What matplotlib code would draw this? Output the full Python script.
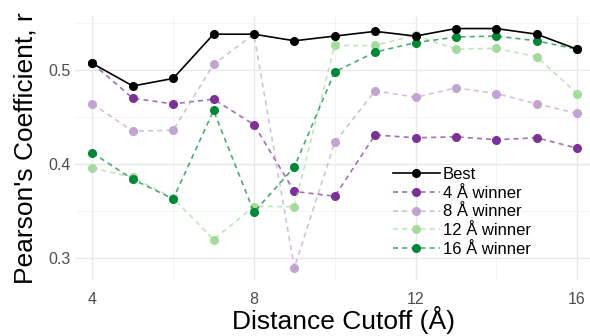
import matplotlib
matplotlib.use("Agg")
import matplotlib.pyplot as plt
from matplotlib.colors import to_rgba

plt.rcParams['font.family'] = ['Liberation Sans', 'DejaVu Sans']

cutoffs = [4, 5, 6, 7, 8, 9, 10, 11, 12, 13, 14, 15, 16]

best = [0.507, 0.483, 0.491, 0.538, 0.538, 0.531, 0.536, 0.541, 0.536, 0.544, 0.544, 0.538, 0.522]
winner_4 = [0.507, 0.470, 0.464, 0.469, 0.442, 0.371, 0.366, 0.431, 0.428, 0.429, 0.426, 0.428, 0.417]
winner_8 = [0.464, 0.435, 0.436, 0.506, 0.538, 0.290, 0.423, 0.478, 0.471, 0.481, 0.475, 0.464, 0.454]
winner_12 = [0.396, 0.386, 0.364, 0.320, 0.355, 0.355, 0.526, 0.526, 0.537, 0.522, 0.523, 0.514, 0.475]
winner_16 = [0.412, 0.384, 0.363, 0.457, 0.349, 0.397, 0.498, 0.519, 0.529, 0.535, 0.536, 0.531, 0.522]

series = [
    ("4 Å winner", winner_4, "#7b3294"),
    ("8 Å winner", winner_8, "#c2a5cf"),
    ("12 Å winner", winner_12, "#a6dba0"),
    ("16 Å winner", winner_16, "#008837"),
]

fig = plt.figure(figsize=(5.9, 3.36), dpi=100)
left_px, top_px, bottom_px = 75, 16.3, 280
ax_h = bottom_px - top_px
ax = fig.add_axes([left_px / 590, 1 - bottom_px / 336, 1 - left_px / 590, ax_h / 336])

ax.plot(cutoffs, best, color="black", lw=1.2, marker="o", ms=5.5, label="Best", zorder=5)
for name, vals, col in series:
    ax.plot(cutoffs, vals, color=to_rgba(col, 0.7), lw=1.2, ls=(0, (3, 2.5)),
            marker="o", ms=5.5, mfc=col, mec=col, label=name, zorder=3)

ax.set_xlim(3.57, 16.32)
ax.set_ylim(0.277, 0.557)
ax.set_xticks([4, 8, 12, 16])
ax.set_xticks([6, 10, 14], minor=True)
ax.set_yticks([0.3, 0.4, 0.5])
ax.set_yticks([0.35, 0.45, 0.55], minor=True)
ax.set_yticklabels(["0.3", "0.4", "0.5"])

ax.grid(True, which="major", color="#e8e8e8", lw=1.0)
ax.grid(True, which="minor", color="#f3f3f3", lw=0.6)
ax.set_axisbelow(True)
for s in ax.spines.values():
    s.set_visible(False)
ax.tick_params(which="both", length=0, labelsize=11.5, labelcolor="#4d4d4d")
ax.tick_params(axis="x", pad=9)
ax.tick_params(axis="y", pad=3)

ax.set_xlabel("Distance Cutoff (Å)", fontsize=19)
ax.xaxis.set_label_coords((343 - left_px) / (590 - left_px), (bottom_px - 306) / ax_h)
ax.set_ylabel("Pearson's Coefficient, r", fontsize=19, labelpad=8)

leg = ax.legend(loc="upper left", bbox_to_anchor=((393 - left_px) / (590 - left_px),
                                                  (bottom_px - 167) / ax_h),
                frameon=False, fontsize=12, handlelength=2.8, handletextpad=0.2,
                labelspacing=0.22, borderaxespad=0, borderpad=0, numpoints=1)

fig.savefig("out.png", dpi=100)
